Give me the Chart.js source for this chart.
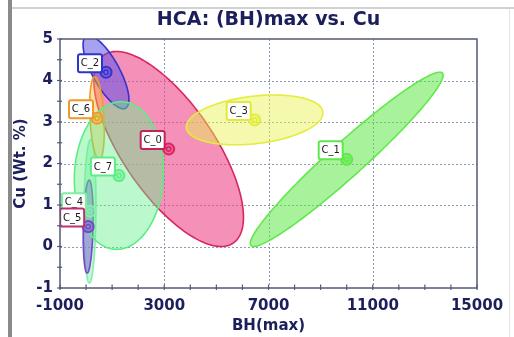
<!DOCTYPE html>
<html>
<head>
<meta charset="utf-8">
<script src="https://cdn.jsdelivr.net/npm/chart.js@4.4.1/dist/chart.umd.min.js"></script>
<style>
  html, body { margin: 0; padding: 0; background: #ffffff; }
  canvas { display: block; }
</style>
</head>
<body>
<canvas id="chart" width="514" height="337"></canvas>
<script>
// Cluster centres, (BH)max vs. Cu
const clusterNames = ['C_0', 'C_1', 'C_2', 'C_3', 'C_4', 'C_5', 'C_6', 'C_7'];
const centerBH = [3170, 10000, 765, 6470, 150, 80, 420, 1260];
const centerCu = [2.35, 2.10, 4.20, 3.05, 0.85, 0.48, 3.09, 1.71];

// Spread of each cluster (half extents along each axis) and BH/Cu correlation
const spreadBH = [2870, 3700, 880, 2620, 230, 190, 280, 1710];
const spreadCu = [2.35, 2.10, 0.88, 0.60, 1.73, 1.12, 1.00, 1.78];
const corrBHCu = [-0.70, 0.965, -0.75, 0.28, 0.10, 0.20, -0.30, 0.05];

// Axis ticks
const xTicks = [-1000, 3000, 7000, 11000, 15000];
const yTicks = [-1, 0, 1, 2, 3, 4, 5];

// Styles
const strokeColors = ['#d8265e', '#62e84c', '#3434cc', '#e4ec3c', '#86eeac', '#7448c8', '#f29a2a', '#5cee84'];
const fillColors = ['rgba(238,70,136,0.60)', 'rgba(96,232,72,0.55)', 'rgba(96,84,228,0.55)', 'rgba(232,242,84,0.48)',
                    'rgba(130,238,172,0.45)', 'rgba(128,88,212,0.50)', 'rgba(250,186,60,0.45)', 'rgba(104,240,140,0.45)'];
const labelBorder = ['#c8205a', '#5ee84a', '#2c34d0', '#e0ea3a', '#7eeea4', '#c0306e', '#f0982a', '#5cee84'];
const NAVY = '#1b1f5b';
const FONT = "'DejaVu Sans', Verdana, sans-serif";

const points = centerBH.map((x, i) => ({ x: x, y: centerCu[i] }));

function tracePath(ctx, chart, i) {
  const xs = chart.scales.x, ys = chart.scales.y;
  const r = corrBHCu[i], k = Math.sqrt(1 - r * r);
  ctx.beginPath();
  const n = 180;
  for (let s = 0; s <= n; s++) {
    const t = s / n * 2 * Math.PI;
    const bh = centerBH[i] + spreadBH[i] * Math.cos(t);
    const cu = centerCu[i] + spreadCu[i] * (r * Math.cos(t) + k * Math.sin(t));
    const X = xs.getPixelForValue(bh), Y = ys.getPixelForValue(cu);
    if (s === 0) ctx.moveTo(X, Y); else ctx.lineTo(X, Y);
  }
  ctx.closePath();
}

const framePlugin = {
  id: 'frame',
  beforeDraw(chart) {
    const ctx = chart.ctx;
    ctx.save();
    ctx.fillStyle = '#ffffff';
    ctx.fillRect(0, 0, chart.width, chart.height);
    ctx.fillStyle = '#d2d2d2';
    ctx.fillRect(12, 7, chart.width - 12, 2);
    ctx.fillStyle = '#e4e4e4';
    ctx.fillRect(509, 9, 1, chart.height - 9);
    ctx.fillStyle = '#8a8a8a';
    ctx.fillRect(8, 0, 4, chart.height);
    ctx.restore();
  }
};

const gridPlugin = {
  id: 'dottedGrid',
  beforeDatasetsDraw(chart) {
    const ctx = chart.ctx, a = chart.chartArea;
    const xs = chart.scales.x, ys = chart.scales.y;
    ctx.save();
    ctx.strokeStyle = '#8e98b2';
    ctx.lineWidth = 1;
    ctx.setLineDash([2, 2]);
    xTicks.slice(1, -1).forEach(v => {
      const X = Math.round(xs.getPixelForValue(v)) + 0.5;
      ctx.beginPath(); ctx.moveTo(X, a.top); ctx.lineTo(X, a.bottom); ctx.stroke();
    });
    yTicks.slice(1, -1).forEach(v => {
      const Y = Math.round(ys.getPixelForValue(v)) + 0.5;
      ctx.beginPath(); ctx.moveTo(a.left, Y); ctx.lineTo(a.right, Y); ctx.stroke();
    });
    ctx.setLineDash([]);

    // cluster ellipses, clipped to the plot area
    ctx.beginPath();
    ctx.rect(a.left, a.top, a.right - a.left, a.bottom - a.top);
    ctx.clip();
    for (let i = 0; i < clusterNames.length; i++) {
      tracePath(ctx, chart, i);
      ctx.fillStyle = fillColors[i];
      ctx.fill();
      ctx.lineWidth = 1.6;
      ctx.strokeStyle = strokeColors[i];
      ctx.stroke();
    }
    ctx.restore();
  }
};

const labelPlugin = {
  id: 'clusterLabels',
  afterDatasetsDraw(chart) {
    const ctx = chart.ctx, a = chart.chartArea;
    const meta = chart.getDatasetMeta(0);
    ctx.save();
    ctx.beginPath();
    ctx.rect(a.left, a.top - 2, a.right - a.left, a.bottom - a.top + 4);
    ctx.clip();
    // inner rings of the centre markers
    meta.data.forEach((pt, i) => {
      ctx.beginPath();
      ctx.arc(pt.x, pt.y, 2.2, 0, Math.PI * 2);
      ctx.lineWidth = 1.4;
      ctx.strokeStyle = strokeColors[i];
      ctx.stroke();
    });
    ctx.font = '10px ' + FONT;
    ctx.textAlign = 'center';
    ctx.textBaseline = 'middle';
    meta.data.forEach((pt, i) => {
      const w = 24, h = 18;
      const right = pt.x - 4, bottom = pt.y;
      const left = right - w, top = bottom - h;
      ctx.strokeStyle = labelBorder[i];
      ctx.lineWidth = 2;
      ctx.beginPath();
      ctx.moveTo(right - 1, bottom - 1);
      ctx.lineTo(pt.x - 3, pt.y);
      ctx.stroke();
      ctx.beginPath();
      ctx.roundRect(left, top, w, h, 2);
      ctx.fillStyle = '#ffffff';
      ctx.fill();
      ctx.stroke();
      ctx.fillStyle = '#1a1a1a';
      ctx.fillText(clusterNames[i], left + w / 2, top + h / 2 + 0.5);
    });
    ctx.restore();
  },
  afterDraw(chart) {
    const ctx = chart.ctx, a = chart.chartArea;
    const xs = chart.scales.x, ys = chart.scales.y;
    ctx.save();
    // plot frame
    ctx.strokeStyle = '#545a78';
    ctx.lineWidth = 1.5;
    ctx.strokeRect(a.left, a.top, a.right - a.left, a.bottom - a.top);
    // tick marks
    ctx.lineWidth = 1.2;
    for (let v = xTicks[0]; v <= xTicks[xTicks.length - 1]; v += 1000) {
      const X = xs.getPixelForValue(v);
      ctx.beginPath(); ctx.moveTo(X, a.bottom - 3.5); ctx.lineTo(X, a.bottom + 2); ctx.stroke();
    }
    for (let v = yTicks[0]; v <= yTicks[yTicks.length - 1]; v += 0.5) {
      const Y = ys.getPixelForValue(v);
      ctx.beginPath(); ctx.moveTo(a.left - 3, Y); ctx.lineTo(a.left + 2, Y); ctx.stroke();
    }
    // titles
    ctx.fillStyle = NAVY;
    ctx.textAlign = 'center';
    ctx.textBaseline = 'middle';
    ctx.font = 'bold 19px ' + FONT;
    ctx.fillText('HCA: (BH)max vs. Cu', (a.left + a.right) / 2, 20);
    ctx.font = 'bold 15px ' + FONT;
    ctx.fillText('BH(max)', (a.left + a.right) / 2, 326);
    ctx.translate(21, (a.top + a.bottom) / 2);
    ctx.rotate(-Math.PI / 2);
    ctx.fillText('Cu (Wt. %)', 0, 0);
    ctx.restore();
  }
};

new Chart(document.getElementById('chart'), {
  type: 'scatter',
  data: {
    datasets: [{
      data: points,
      pointRadius: 5.5,
      pointBorderWidth: 2,
      pointBorderColor: strokeColors,
      pointBackgroundColor: fillColors
    }]
  },
  options: {
    responsive: false,
    animation: false,
    devicePixelRatio: 1,
    layout: { padding: { top: 39, right: 37, left: 0, bottom: 0 } },
    plugins: { legend: { display: false }, tooltip: { enabled: false }, title: { display: false } },
    scales: {
      x: {
        type: 'linear',
        min: xTicks[0], max: xTicks[xTicks.length - 1],
        afterBuildTicks(s) { s.ticks = xTicks.map(v => ({ value: v })); },
        afterFit(s) { s.height = 49; },
        grid: { display: false, drawTicks: false },
        border: { display: false },
        ticks: { color: NAVY, font: { family: FONT, size: 15, weight: 'bold' }, padding: 9, maxRotation: 0, autoSkip: false,
                 callback: v => String(v) }
      },
      y: {
        type: 'linear',
        min: yTicks[0], max: yTicks[yTicks.length - 1],
        afterBuildTicks(s) { s.ticks = yTicks.map(v => ({ value: v })); },
        afterFit(s) { s.width = 60; },
        grid: { display: false, drawTicks: false },
        border: { display: false },
        ticks: { color: NAVY, font: { family: FONT, size: 15, weight: 'bold' }, padding: 7, callback: v => String(v) }
      }
    }
  },
  plugins: [framePlugin, gridPlugin, labelPlugin]
});
</script>
</body>
</html>
